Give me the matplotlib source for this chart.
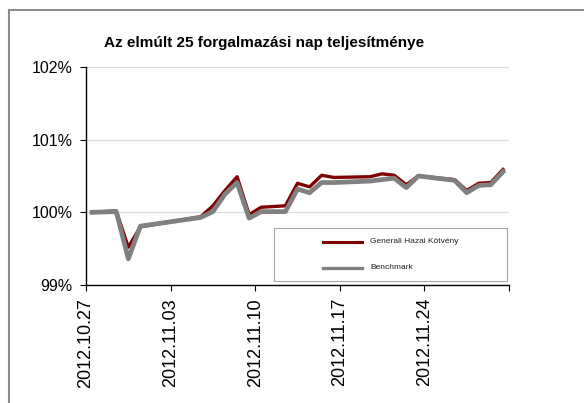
import matplotlib
matplotlib.use('Agg')
import matplotlib.pyplot as plt
from matplotlib.patches import Rectangle
from matplotlib.lines import Line2D
import pandas as pd

# ---- data ----
dates = ['2012.10.27', '2012.10.29', '2012.10.30', '2012.10.31', '2012.11.05',
         '2012.11.06', '2012.11.07', '2012.11.08', '2012.11.09', '2012.11.10',
         '2012.11.12', '2012.11.13', '2012.11.14', '2012.11.15', '2012.11.16',
         '2012.11.19', '2012.11.20', '2012.11.21', '2012.11.22', '2012.11.23',
         '2012.11.26', '2012.11.27', '2012.11.28', '2012.11.29', '2012.11.30']
fund = [100.00, 100.02, 99.52, 99.80, 99.94,
        100.09, 100.30, 100.49, 99.97, 100.07,
        100.09, 100.40, 100.35, 100.51, 100.48,
        100.49, 100.53, 100.51, 100.38, 100.50,
        100.45, 100.30, 100.40, 100.41, 100.59]
bench = [100.00, 100.01, 99.36, 99.81, 99.93,
         100.01, 100.25, 100.41, 99.92, 100.01,
         100.01, 100.32, 100.27, 100.41, 100.41,
         100.43, 100.45, 100.47, 100.34, 100.50,
         100.44, 100.27, 100.37, 100.38, 100.56]
tick_dates = ['2012.10.27', '2012.11.03', '2012.11.10', '2012.11.17', '2012.11.24', '2012.12.01']
tick_labels = ['2012.10.27', '2012.11.03', '2012.11.10', '2012.11.17', '2012.11.24', '']
y_ticks = [99, 100, 101, 102]
y_labels = ['99%', '100%', '101%', '102%']
series_names = ['Generali Hazai Kötvény', 'Benchmark']
title = 'Az elmúlt 25 forgalmazási nap teljesítménye'

RED = '#800000'
GRAY = '#808080'

W, H = 584, 403
fig = plt.figure(figsize=(W / 100, H / 100), dpi=100)

ax = fig.add_axes([86 / W, 1 - 285 / H, 423 / W, 218 / H])

x = pd.to_datetime(dates, format='%Y.%m.%d') + pd.Timedelta(hours=12)
ax.plot(x, fund, color=RED, lw=2.4, zorder=3, solid_joinstyle='round')
ax.plot(x, bench, color=GRAY, lw=3.4, zorder=4, solid_joinstyle='round')

xt = pd.to_datetime(tick_dates, format='%Y.%m.%d')
ax.set_xlim(xt[0], xt[-1])
ax.set_xticks(xt)
ax.set_xticklabels(tick_labels, rotation=90, family='Liberation Sans', fontsize=13)
ax.set_ylim(99, 102)
ax.set_yticks(y_ticks)
ax.set_yticklabels(y_labels, family='Liberation Sans', fontsize=11.5)

ax.yaxis.grid(True, color='#dcdcdc', lw=0.9)
ax.set_axisbelow(True)
for s in ['top', 'right']:
    ax.spines[s].set_visible(False)
for s in ['left', 'bottom']:
    ax.spines[s].set_color('black')
    ax.spines[s].set_linewidth(1.0)
ax.tick_params(axis='x', direction='out', length=4, width=0.8, pad=5.3)
ax.tick_params(axis='y', direction='out', length=4, width=0.8, pad=5.8)

# title
fig.text(264 / W, 1 - 43 / H, title, ha='center', va='center',
         fontweight='bold', fontsize=11, family='Liberation Sans')

# legend (manual box)
fig.add_artist(Rectangle((274 / W, 1 - 281 / H), 233 / W, 53 / H,
                         transform=fig.transFigure, facecolor='white',
                         edgecolor='#a6a6a6', lw=0.8, zorder=5))
for (name, col, yy, lw) in [(series_names[0], RED, 241.7, 2.2),
                            (series_names[1], GRAY, 267.7, 2.4)]:
    fig.add_artist(Line2D([323 / W, 362 / W], [1 - yy / H] * 2, color=col, lw=lw,
                          transform=fig.transFigure, zorder=6))
    fig.text(370.5 / W, 1 - yy / H, name, ha='left', va='center', fontsize=6.0,
             family='Liberation Sans', color='#222222', zorder=6)

# outer border
fig.add_artist(Rectangle((9 / W, -0.2), 1.2, 1 - 10 / H + 0.2,
                         transform=fig.transFigure, facecolor='none',
                         edgecolor='#8c8c8c', lw=1.5, zorder=0))

fig.savefig('out.png', dpi=100)
